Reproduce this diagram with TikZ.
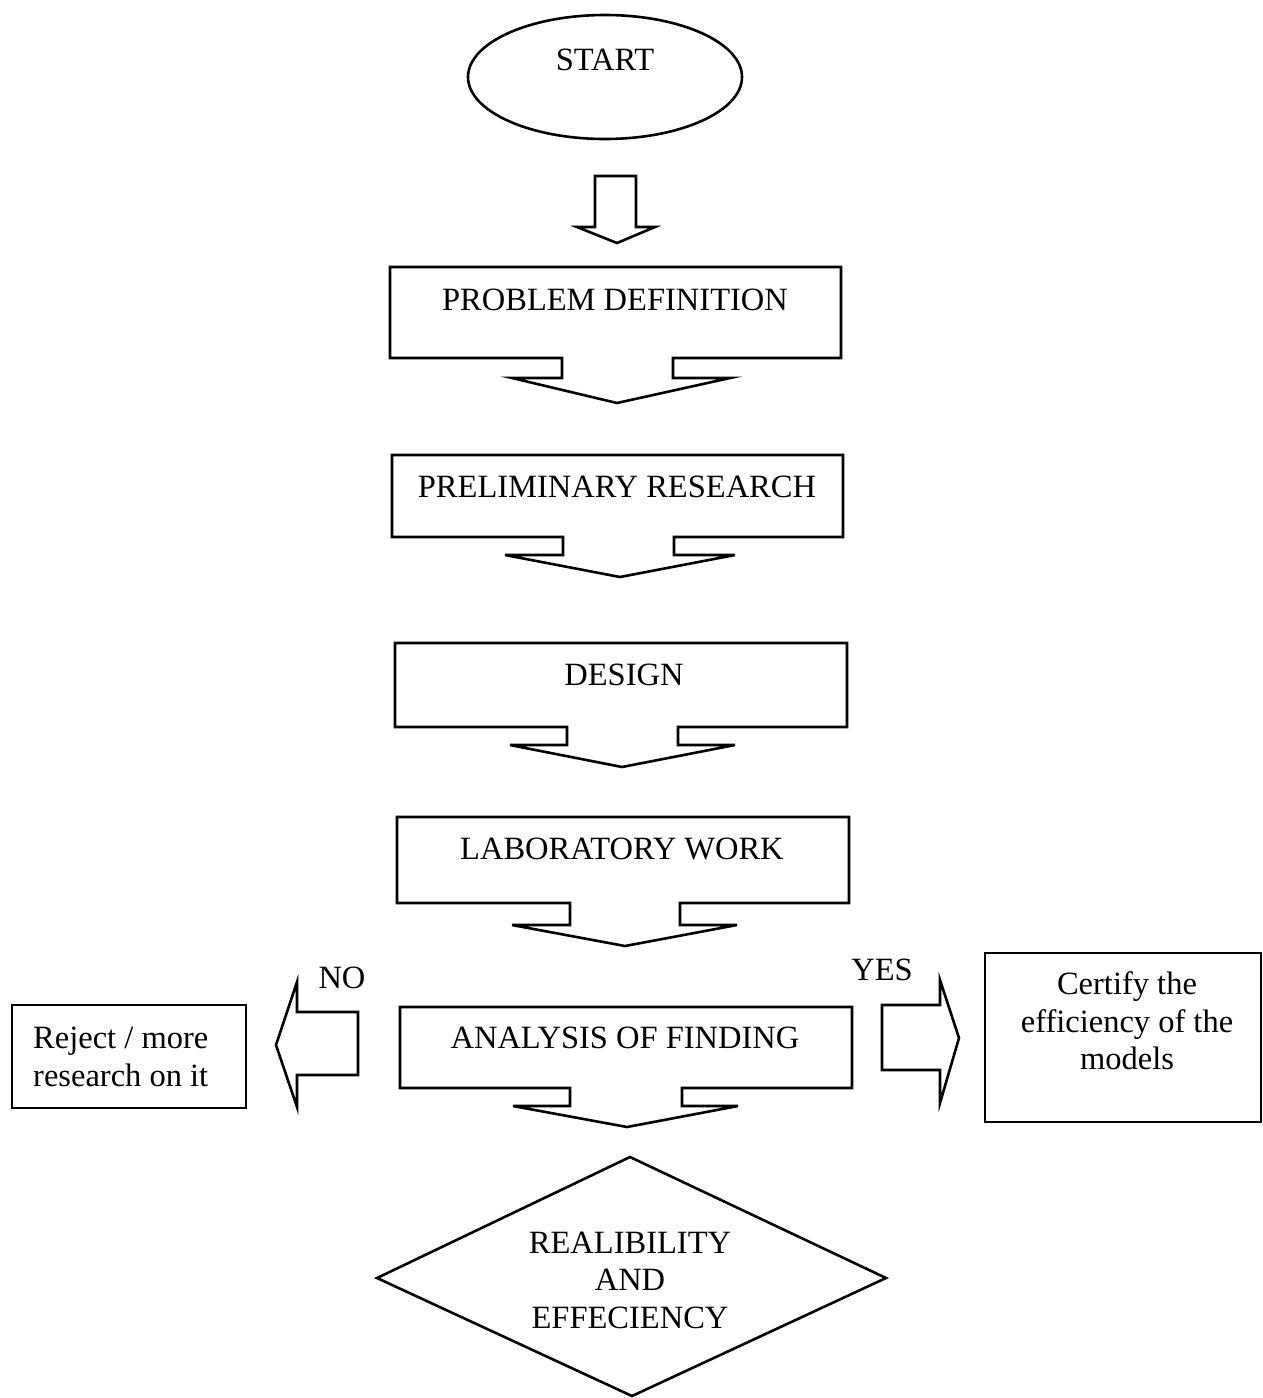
\documentclass[tikz,border=0pt]{standalone}
\usepackage{fontspec}
\setmainfont{Liberation Serif}
\begin{document}
\begin{tikzpicture}[x=1pt,y=-1pt,
  outl/.style={draw=black,line width=2.6pt,line join=miter,fill=white},
  lbl/.style={inner sep=0pt,font=\fontsize{32.5}{37.5}\selectfont,align=center}]
\useasboundingbox (0,0) rectangle (1262,1398);
% START
\draw[outl] (605,77) ellipse [x radius=137,y radius=62];
\node[lbl] (start) at (605,60) {START};
% first block arrow
\draw[outl] (595,176) -- (636,176) -- (636,227) -- (655,227) -- (617,243) -- (577,227) -- (595,227) -- cycle;
% box 1
\draw[outl] (390,267) -- (841,267) -- (841,358) -- (673,358) -- (673,378) -- (730,378) -- (617,403) -- (512,378) -- (562,378) -- (562,358) -- (390,358) -- cycle;
\node[lbl] (pd) at (615,300) {PROBLEM DEFINITION};
% box 2
\draw[outl] (392,455) -- (843,455) -- (843,537) -- (674,537) -- (674,555) -- (735,555) -- (620,577) -- (505,555) -- (563,555) -- (563,537) -- (392,537) -- cycle;
\node[lbl] (pr) at (617,487) {PRELIMINARY RESEARCH};
% box 3
\draw[outl] (395,643) -- (847,643) -- (847,727) -- (678,727) -- (678,745) -- (735,745) -- (622,767) -- (510,745) -- (567,745) -- (567,727) -- (395,727) -- cycle;
\node[lbl] (ds) at (624,675) {DESIGN};
% box 4
\draw[outl] (397,817) -- (849,817) -- (849,903) -- (680,903) -- (680,925) -- (737,925) -- (625,946) -- (512,925) -- (570,925) -- (570,903) -- (397,903) -- cycle;
\node[lbl] (lw) at (622,849) {LABORATORY WORK};
% box 5
\draw[outl] (400,1007) -- (852,1007) -- (852,1088) -- (682,1088) -- (682,1106) -- (738,1106) -- (627,1127) -- (513,1106) -- (570,1106) -- (570,1088) -- (400,1088) -- cycle;
\node[lbl] (af) at (625,1038) {ANALYSIS OF FINDING};
% NO arrow
\draw[outl] (358,1012) -- (358,1075) -- (297,1075) -- (297,1107) -- (276,1045) -- (297,982) -- (297,1012) -- cycle;
\node[lbl] (no) at (342,978) {NO};
% YES arrow
\draw[outl] (882,1005) -- (940,1005) -- (940,980) -- (959,1038) -- (940,1103) -- (940,1070) -- (882,1070) -- cycle;
\node[lbl] (yes) at (882,970) {YES};
% Reject box
\draw[outl] (12,1005) rectangle (246,1108);
\node[lbl,align=left,anchor=west] (rej) at (33,1057) {Reject / more\\research on it};
% Certify box
\draw[outl] (985,953) rectangle (1261,1122);
\node[lbl] (cert) at (1127,1021) {Certify the\\efficiency of the\\models};
% diamond
\draw[outl] (377,1278) -- (630,1157) -- (886,1278) -- (632,1396) -- cycle;
\node[lbl] (rel) at (630,1280) {REALIBILITY\\AND\\EFFECIENCY};
\end{tikzpicture}
\end{document}
